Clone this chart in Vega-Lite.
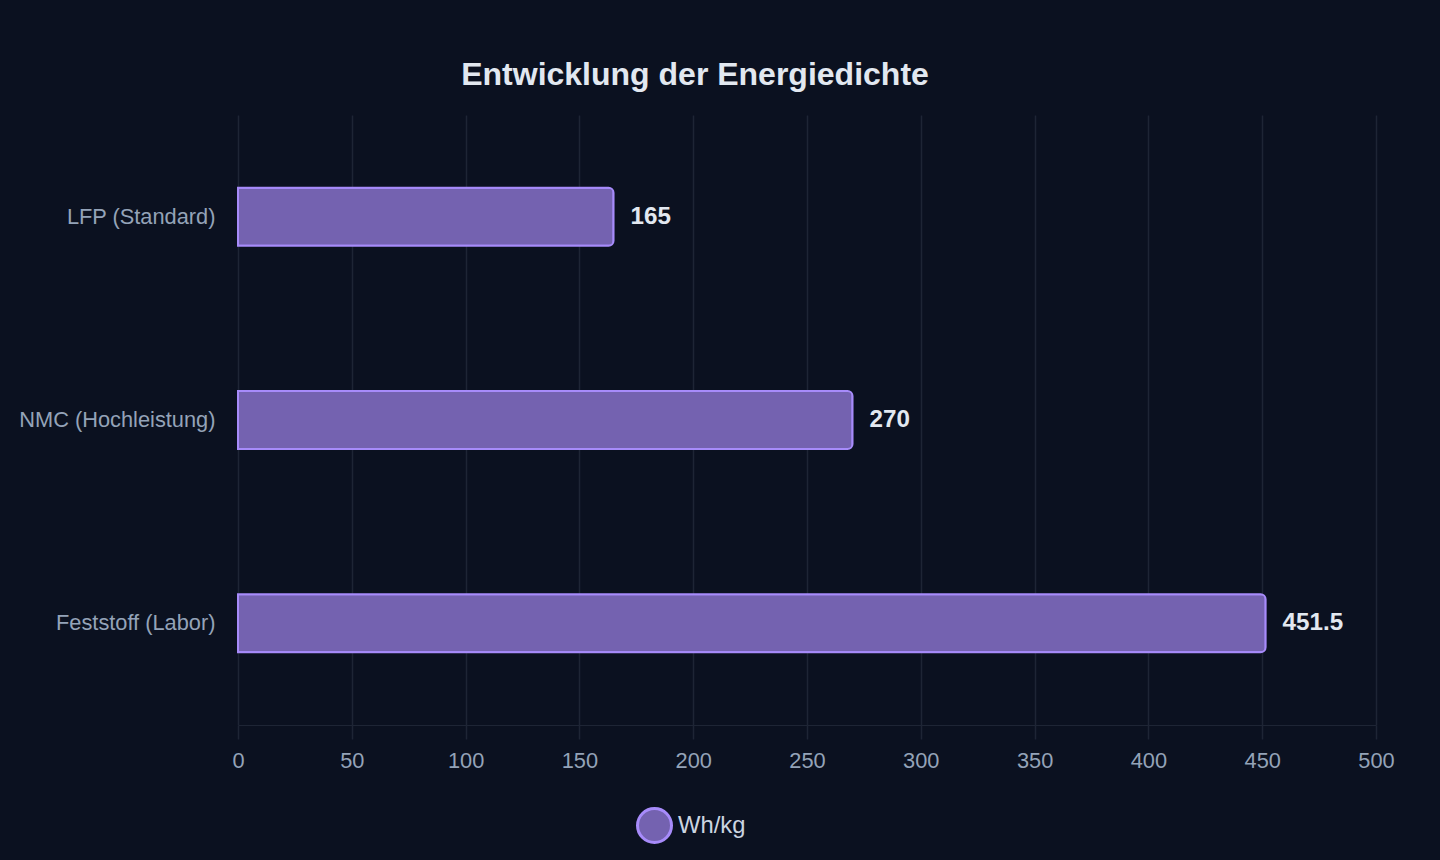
{
  "$schema": "https://vega.github.io/schema/vega-lite/v6.json",
  "width": 1138,
  "height": 610,
  "autosize": {"type": "none"},
  "padding": {"left": 238, "top": 115, "right": 64, "bottom": 135},
  "background": "#0b1120",
  "title": {
    "text": "Entwicklung der Energiedichte",
    "anchor": "middle",
    "frame": "group",
    "dx": -112,
    "fontSize": 32,
    "font": "Liberation Sans",
    "fontWeight": "bold",
    "color": "#e2e8f0",
    "offset": 23
  },
  "config": {
    "view": {"stroke": null},
    "font": "Liberation Sans"
  },
  "data": {
    "values": [
      {"typ": "LFP (Standard)", "wert": 165, "serie": "Wh/kg"},
      {"typ": "NMC (Hochleistung)", "wert": 270, "serie": "Wh/kg"},
      {"typ": "Feststoff (Labor)", "wert": 451.5, "serie": "Wh/kg"}
    ]
  },
  "encoding": {
    "y": {
      "field": "typ",
      "type": "nominal",
      "sort": null,
      "title": null,
      "scale": {"paddingInner": 0, "paddingOuter": 0},
      "axis": {
        "domain": false,
        "ticks": false,
        "grid": false,
        "labelFontSize": 21.8,
        "labelColor": "#94a3b8",
        "labelPadding": 23,
        "labelLimit": 400,
        "labelFont": "Liberation Sans"
      }
    },
    "x": {
      "field": "wert",
      "type": "quantitative",
      "title": null,
      "scale": {"domain": [0, 500], "nice": false},
      "axis": {
        "values": [0, 50, 100, 150, 200, 250, 300, 350, 400, 450, 500],
        "grid": true,
        "gridColor": "#1e2535",
        "gridWidth": 1.5,
        "domain": true,
        "domainColor": "#1e2535",
        "tickColor": "#1e2535",
        "tickSize": 14,
        "tickWidth": 1.5,
        "labelFontSize": 21.8,
        "labelColor": "#94a3b8",
        "labelPadding": 11,
        "labelFlush": false,
        "labelFont": "Liberation Sans"
      }
    }
  },
  "layer": [
    {
      "mark": {
        "type": "bar",
        "height": {"band": 0.285},
        "stroke": "#a78bfa",
        "strokeWidth": 2,
        "cornerRadiusEnd": 5
      },
      "encoding": {
        "color": {
          "field": "serie",
          "type": "nominal",
          "scale": {"range": ["#7462b0"]},
          "legend": {
            "orient": "none",
            "legendX": 398,
            "legendY": 692,
            "title": null,
            "symbolType": "circle",
            "symbolSize": 1156,
            "symbolStrokeColor": "#a78bfa",
            "symbolStrokeWidth": 3,
            "symbolFillColor": "#7462b0",
            "symbolOpacity": 1,
            "labelFontSize": 23.8,
            "labelColor": "#cbd5e1",
            "labelOffset": 5,
            "labelFont": "Liberation Sans",
            "padding": 0
          }
        }
      }
    },
    {
      "mark": {
        "type": "text",
        "align": "left",
        "baseline": "middle",
        "dx": 17,
        "fontSize": 24.2,
        "fontWeight": "bold",
        "color": "#e2e8f0",
        "font": "Liberation Sans"
      },
      "encoding": {
        "text": {"field": "wert", "type": "quantitative"}
      }
    }
  ]
}
